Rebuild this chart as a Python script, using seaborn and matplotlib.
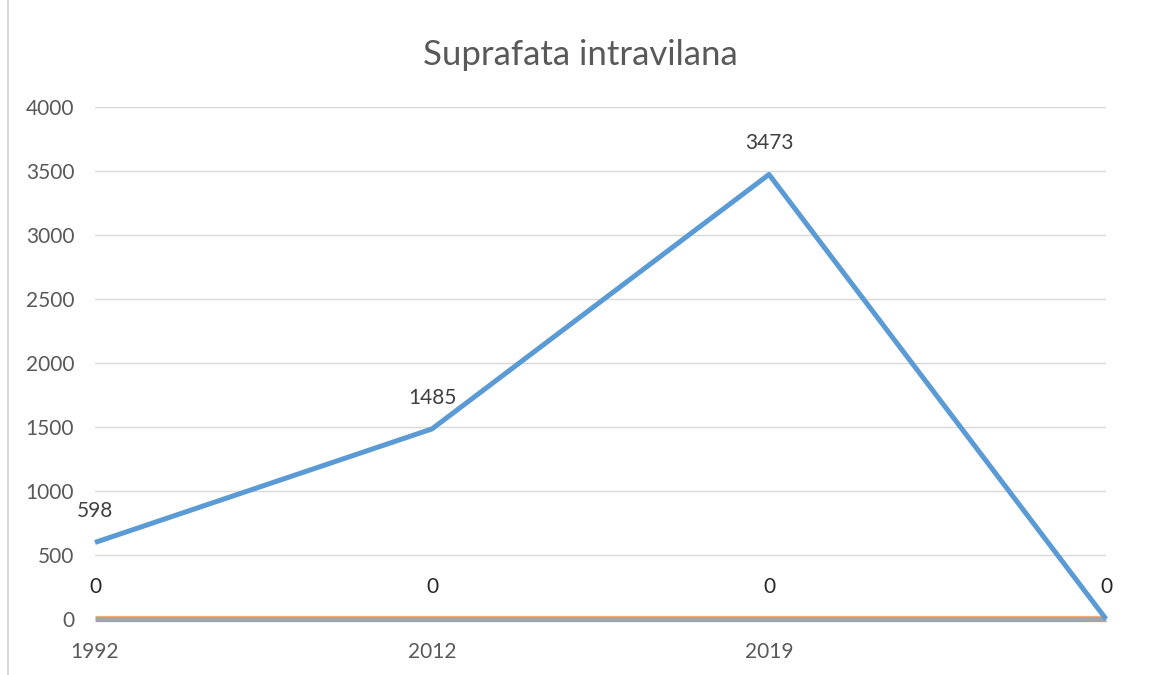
import seaborn as sns
import matplotlib.pyplot as plt
import matplotlib.transforms as mtransforms
from matplotlib.lines import Line2D
import pandas as pd

years = ["1992", "2012", "2019", ""]
suprafata = [598, 1485, 3473, 0]
serie2 = [0, 0, 0, 0]
serie3 = [0, 0, 0, 0]

sns.set_style("white")
plt.rcParams['font.family'] = ['Lato', 'DejaVu Sans']

idx = list(range(len(years)))
df = pd.DataFrame({"x": idx, "s1": suprafata, "s2": serie2, "s3": serie3})

fig = plt.figure(figsize=(11.49, 6.75), dpi=100)
ax = fig.add_axes([95 / 1149, 56 / 675, (1106 - 95) / 1149, (568 - 56) / 675])

sns.lineplot(data=df, x="x", y="s3", color="#F4B183", linewidth=0.9, ax=ax)
sns.lineplot(data=df, x="x", y="s2", color="#A5A5A5", linewidth=3.8, ax=ax)
sns.lineplot(data=df, x="x", y="s1", color="#5B9BD5", linewidth=3.6, ax=ax)
for ln in ax.lines:
    ln.set_clip_on(False)
    ln.set_solid_capstyle("butt")
# the orange series sits just on the upper edge of the grey one
ax.lines[0].set_transform(ax.lines[0].get_transform() +
                          mtransforms.ScaledTranslation(0, 2.1 / 72, fig.dpi_scale_trans))

for i, v in zip(idx, suprafata):
    if v != 0:
        ax.annotate(str(v), (i, v), xytext=(0, 22.5), textcoords="offset points",
                    ha="center", va="center", fontsize=15, color="#404040")
for i, v in zip(idx, serie2):
    ax.annotate(str(v), (i, v), xytext=(0, 23), textcoords="offset points",
                ha="center", va="center", fontsize=15, color="#262626")

ax.set_xlim(0, 3)
ax.set_ylim(0, 4000)
ax.set_yticks(range(0, 4001, 500))
ax.set_xticks(idx)
ax.set_xticklabels(years)
ax.grid(axis="y", color="#D9D9D9", linewidth=1)
ax.set_axisbelow(True)
for s in ax.spines.values():
    s.set_visible(False)
ax.tick_params(axis="both", length=0, labelsize=15, labelcolor="#595959")
ax.tick_params(axis="y", pad=15)
ax.tick_params(axis="x", pad=16.5)
ax.set_xlabel("")
ax.set_ylabel("")

fig.text(0.505, 1 - 55 / 675, "Suprafata intravilana", ha="center", va="center",
         fontsize=25, color="#595959")
fig.add_artist(Line2D([8 / 1149, 8 / 1149], [0, 1], color="#D9D9D9", linewidth=1.5))

fig.savefig("out.png", dpi=100)
